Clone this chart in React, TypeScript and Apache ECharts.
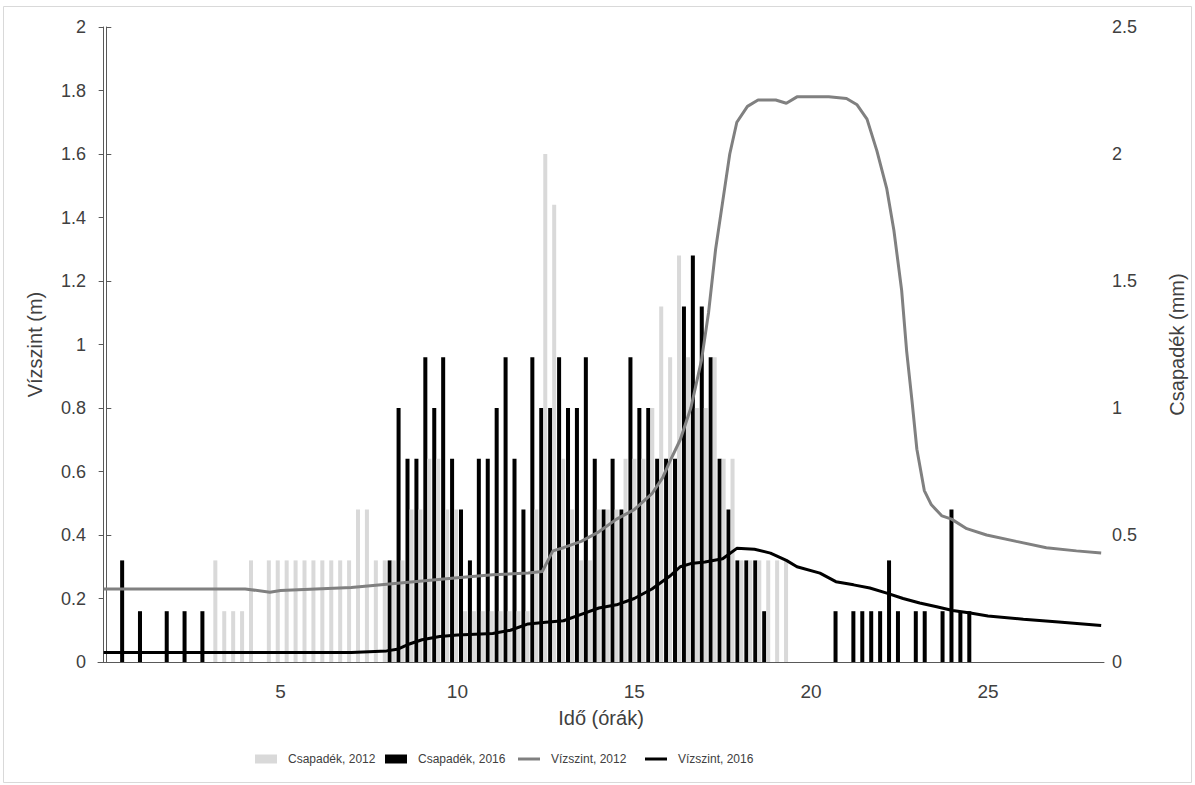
import React, { useEffect, useRef } from "react";
import * as echarts from "echarts";

// X-axis tick labels (hours)
const hourTicks = [5, 10, 15, 20, 25];

// Precipitation 2016 (mm) in 15-minute slots: time (h) and amount
const rain2016Hours = [
  0.5, 1.0, 1.75, 2.25, 2.75,
  8.0, 8.25, 8.5, 8.75, 9.0, 9.25, 9.5, 9.75, 10.0, 10.25, 10.5, 10.75,
  11.0, 11.25, 11.5, 11.75, 12.0, 12.25, 12.5, 12.75, 13.0, 13.25, 13.5, 13.75,
  14.0, 14.25, 14.5, 14.75, 15.0, 15.25, 15.5, 15.75, 16.0, 16.25, 16.5, 16.75,
  17.0, 17.25, 17.5, 17.75, 18.0, 18.25, 18.5,
  20.5, 21.0, 21.25, 21.5, 21.75, 22.0, 22.25, 22.75, 23.0, 23.5, 23.75, 24.0, 24.25,
];
const rain2016Mm = [
  0.4, 0.2, 0.2, 0.2, 0.2,
  0.4, 1.0, 0.8, 0.8, 1.2, 1.0, 1.2, 0.8, 0.6, 0.4, 0.8, 0.8,
  1.0, 1.2, 0.8, 0.6, 1.2, 1.0, 1.0, 1.2, 1.0, 1.0, 1.2, 0.8,
  0.6, 0.8, 0.6, 1.2, 1.0, 1.0, 0.8, 0.8, 0.8, 1.4, 1.6, 1.4,
  1.2, 0.8, 0.6, 0.4, 0.4, 0.4, 0.2,
  0.2, 0.2, 0.2, 0.2, 0.2, 0.4, 0.2, 0.2, 0.2, 0.2, 0.6, 0.2, 0.2,
];

// Precipitation 2012 (mm) in 15-minute slots
const rain2012Hours = [
  3.0, 3.25, 3.5, 3.75, 4.0,
  4.5, 4.75, 5.0, 5.25, 5.5, 5.75, 6.0, 6.25, 6.5, 6.75,
  7.0, 7.25, 7.5, 7.75,
  8.0, 8.25, 8.5, 8.75, 9.0, 9.25, 9.5, 9.75, 10.0, 10.25, 10.5, 10.75,
  11.0, 11.25, 11.5, 11.75, 12.0, 12.25, 12.5, 12.75, 13.0, 13.25, 13.5, 13.75,
  14.0, 14.25, 14.5, 14.75, 15.0, 15.25, 15.5, 15.75, 16.0, 16.25, 16.5, 16.75,
  17.0, 17.25, 17.5, 17.75, 18.0, 18.25, 18.5, 18.75, 19.0,
];
const rain2012Mm = [
  0.4, 0.2, 0.2, 0.2, 0.4,
  0.4, 0.4, 0.4, 0.4, 0.4, 0.4, 0.4, 0.4, 0.4, 0.4,
  0.6, 0.6, 0.4, 0.4,
  0.4, 0.4, 0.6, 0.6, 0.8, 0.8, 0.6, 0.6, 0.2, 0.2, 0.2, 0.2,
  0.2, 0.2, 0.2, 0.2, 0.6, 2.0, 1.8, 0.8, 0.6, 0.4, 0.4, 0.6,
  0.6, 0.6, 0.8, 0.8, 0.8, 1.0, 1.4, 1.2, 1.6, 1.2, 1.0, 1.0,
  1.2, 0.8, 0.8, 0.4, 0.4, 0.4, 0.4, 0.4, 0.4,
];

// Water level 2012 (m)
const level2012Hours = [
  0, 1, 2, 3, 4, 4.7, 5, 6, 7, 8, 9, 10, 11, 12, 12.4, 12.7, 13, 13.5, 14, 14.5,
  15, 15.5, 15.8, 16, 16.3, 16.6, 16.9, 17.1, 17.3, 17.5, 17.7, 17.9, 18.2, 18.5,
  19, 19.3, 19.6, 20, 20.5, 21, 21.3, 21.58, 21.86, 22.14, 22.34, 22.56, 22.7, 22.85,
  22.99, 23.2, 23.4, 23.7, 23.97, 24.4, 24.96, 25.8, 26.65, 27.5, 28.2,
];
const level2012M = [
  0.23, 0.23, 0.23, 0.23, 0.23, 0.22, 0.225, 0.23, 0.235, 0.245, 0.255, 0.265, 0.275, 0.28, 0.285, 0.35, 0.36, 0.38, 0.41, 0.45,
  0.48, 0.53, 0.58, 0.63, 0.7, 0.8, 0.95, 1.1, 1.3, 1.45, 1.6, 1.7, 1.75, 1.77,
  1.77, 1.76, 1.78, 1.78, 1.78, 1.775, 1.755, 1.71, 1.61, 1.49, 1.36, 1.17, 0.98, 0.825,
  0.67, 0.54, 0.495, 0.46, 0.45, 0.42, 0.4, 0.38, 0.36, 0.35, 0.343,
];

// Water level 2016 (m)
const level2016Hours = [
  0, 1, 2, 3, 4, 5, 6, 7, 8, 8.3, 8.6, 9, 9.5, 10, 11, 11.5, 12, 12.5, 13, 13.5,
  14, 14.5, 15, 15.5, 16, 16.3, 16.6, 17, 17.5, 17.9, 18.4, 18.85, 19.3, 19.6,
  20.25, 20.7, 21.2, 21.66, 22.14, 22.6, 23.07, 23.55, 24, 24.5, 25, 26, 27, 28.2,
];
const level2016M = [
  0.03, 0.03, 0.03, 0.03, 0.03, 0.03, 0.03, 0.03, 0.035, 0.04, 0.055, 0.07, 0.08, 0.085, 0.09, 0.1, 0.12, 0.125, 0.13, 0.15,
  0.17, 0.18, 0.2, 0.23, 0.27, 0.3, 0.31, 0.315, 0.325, 0.358, 0.355, 0.343, 0.32, 0.3,
  0.28, 0.253, 0.243, 0.233, 0.217, 0.2, 0.186, 0.174, 0.162, 0.154, 0.145, 0.135, 0.126, 0.115,
];

// Legend entries and their left positions (px)
const legendNames = ["Csapadék, 2012", "Csapadék, 2016", "Vízszint, 2012", "Vízszint, 2016"];
const legendLefts = [250, 380, 513, 640];

const zip = (xs: number[], ys: number[]) => xs.map((x, i) => [x, ys[i]]);

const FONT = "'Liberation Sans', Arial, sans-serif";
const AXIS_COLOR = "#595959";
const TEXT_COLOR = "#404040";
const LINE_ICON = "path://M0,0H22V3H0Z";

export default function App() {
  const ref = useRef<HTMLDivElement>(null);

  useEffect(() => {
    document.body.style.margin = "0";
    if (!ref.current) return;
    const chart = echarts.init(ref.current, undefined, { renderer: "svg" });
    const legends = legendNames.map((name, i) => ({
      top: 748,
      left: legendLefts[i],
      itemWidth: 22,
      itemHeight: 9,
      selectedMode: false,
      textStyle: { fontSize: 12, color: TEXT_COLOR, fontFamily: FONT, padding: [0, 0, 0, 6] },
      data: [{ name, icon: i < 2 ? "rect" : LINE_ICON }],
    }));
    const option: any = {
      animation: false,
      backgroundColor: "#ffffff",
      textStyle: { fontFamily: FONT },
      graphic: [
        {
          type: "rect",
          silent: true,
          shape: { x: 3.5, y: 6.5, width: 1188, height: 776 },
          style: { fill: "none", stroke: "#d9d9d9", lineWidth: 1 },
        },
      ],
      grid: { left: 98, right: 87, top: 27, bottom: 123, containLabel: false },
      legend: legends,
      xAxis: [
        {
          type: "value",
          min: -0.16,
          max: 28.28,
          axisLine: { show: true, onZero: false, lineStyle: { color: AXIS_COLOR, width: 1 } },
          axisTick: { show: false },
          splitLine: { show: false },
          axisLabel: { customValues: hourTicks, fontSize: 19, color: TEXT_COLOR, margin: 20, fontFamily: FONT },
          name: "Idő (órák)",
          nameLocation: "middle",
          nameGap: 46,
          nameTextStyle: { fontSize: 20, color: TEXT_COLOR, fontFamily: FONT },
        },
        {
          type: "value",
          min: -0.233,
          max: 27.97,
          show: false,
        },
      ],
      yAxis: [
        {
          type: "value",
          position: "left",
          min: 0,
          max: 2,
          interval: 0.2,
          axisLine: { show: true, lineStyle: { color: AXIS_COLOR, width: 1 } },
          axisTick: { show: true, length: 5, lineStyle: { color: AXIS_COLOR } },
          splitLine: { show: false },
          axisLabel: { fontSize: 18, color: TEXT_COLOR, margin: 12, fontFamily: FONT },
          name: "Vízszint (m)",
          nameLocation: "middle",
          nameRotate: 90,
          nameGap: 53,
          nameTextStyle: { fontSize: 20, color: TEXT_COLOR, fontFamily: FONT },
        },
        {
          type: "value",
          position: "right",
          min: 0,
          max: 2.5,
          interval: 0.5,
          axisLine: { show: true, lineStyle: { color: AXIS_COLOR, width: 1 } },
          axisTick: { show: true, length: 5, lineStyle: { color: AXIS_COLOR } },
          splitLine: { show: false },
          axisLabel: { fontSize: 18, color: TEXT_COLOR, margin: 8, fontFamily: FONT },
          name: "Csapadék (mm)",
          nameLocation: "middle",
          nameRotate: 90,
          nameGap: 63,
          nameTextStyle: { fontSize: 20, color: TEXT_COLOR, fontFamily: FONT },
        },
      ],
      series: [
        {
          name: "Csapadék, 2016",
          type: "bar",
          xAxisIndex: 1,
          yAxisIndex: 1,
          data: zip(rain2016Hours, rain2016Mm),
          itemStyle: { color: "#000000" },
          barGap: "0%",
          barCategoryGap: "10%",
          z: 2,
        },
        {
          name: "Csapadék, 2012",
          type: "bar",
          xAxisIndex: 1,
          yAxisIndex: 1,
          data: zip(rain2012Hours, rain2012Mm),
          itemStyle: { color: "#d9d9d9" },
          barGap: "0%",
          barCategoryGap: "10%",
          z: 2,
        },
        {
          name: "Vízszint, 2012",
          type: "line",
          xAxisIndex: 0,
          yAxisIndex: 0,
          data: zip(level2012Hours, level2012M),
          symbol: "none",
          lineStyle: { color: "#808080", width: 3 },
          itemStyle: { color: "#808080" },
          z: 4,
        },
        {
          name: "Vízszint, 2016",
          type: "line",
          xAxisIndex: 0,
          yAxisIndex: 0,
          data: zip(level2016Hours, level2016M),
          symbol: "none",
          lineStyle: { color: "#000000", width: 3 },
          itemStyle: { color: "#000000" },
          z: 4,
        },
      ],
    };
    chart.setOption(option);
    return () => chart.dispose();
  }, []);

  return <div ref={ref} style={{ width: 1195, height: 785 }} />;
}
